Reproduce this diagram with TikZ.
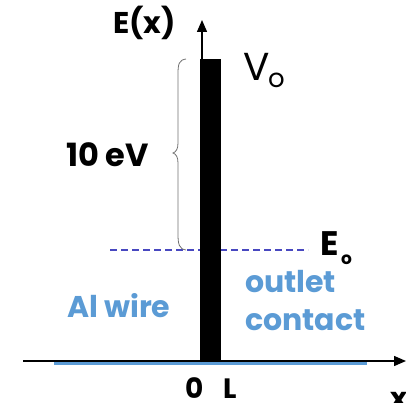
\documentclass[tikz,border=0pt]{standalone}
\usepackage{fontspec}
\setmainfont{Poppins}
\usetikzlibrary{arrows.meta}
\definecolor{wireblue}{HTML}{5B9BD5}
\definecolor{dashblue}{HTML}{4848C0}
\definecolor{bracegray}{HTML}{707070}
\tikzset{
  lbl/.style={anchor=base west, inner sep=0pt, outer sep=0pt},
  bluelbl/.style={lbl, text=wireblue, font=\bfseries\fontsize{30}{32}\selectfont},
  axis/.style={line width=1.4pt, -{Triangle[width=10pt,length=12pt]}},
}
\begin{document}
\begin{tikzpicture}[x=1pt,y=-1pt]
\useasboundingbox (0,0) rectangle (406,403);
% energy level E0 (dashed)
\coordinate (dl) at (110,250);
\coordinate (dr) at (308,250);
\draw[dashblue, line width=1.1pt, dash pattern=on 7pt off 4pt] (dl) -- (dr);
% x axis
\coordinate (xs) at (23,361);
\coordinate (xe) at (406,361);
\draw[axis] (xs) -- (xe);
\coordinate (bs) at (54,363.5);
\coordinate (be) at (367,363.5);
\draw[wireblue, line width=2.2pt] (bs) -- (be);
% y axis
\coordinate (ys) at (202,362);
\coordinate (ye) at (202,20);
\draw[axis] (ys) -- (ye);
% barrier
\node[fill=black, inner sep=0pt, minimum width=21pt, minimum height=303pt, anchor=north west] (bar) at (200,59) {};
% brace
\coordinate (bt) at (186,59);
\coordinate (bb) at (186,250);
\coordinate (tip) at (173,153);
\draw[bracegray, line width=0.8pt] (bt) .. controls (179,60) and (178,64) .. (178,74)
  -- (178,143) .. controls (178,149) and (176,152) .. (tip)
  .. controls (176,154) and (178,157) .. (178,163)
  -- (178,234) .. controls (178,244) and (179,249) .. (bb);
% labels
\node[lbl, font=\bfseries\fontsize{30}{32}\selectfont] (ex) at (113,34) {E(x)};
\node[lbl, font=\fontsize{39}{41}\selectfont] (v0) at (243,81) {V};
\node[lbl, font=\fontsize{26}{28}\selectfont] (v0s) at (268,88) {o};
\node[lbl, font=\bfseries\fontsize{32}{34}\selectfont] (ev) at (66,167) {10 eV};
\node[lbl, font=\bfseries\fontsize{34}{36}\selectfont] (e0) at (320,255) {E};
\node[lbl, font=\bfseries\fontsize{17}{19}\selectfont] (e0s) at (341,264) {o};
\node[bluelbl] (al) at (67,317) {Al wire};
\node[bluelbl] (out) at (245,292) {outlet};
\node[bluelbl] (con) at (245,330) {contact};
\node[lbl, font=\bfseries\fontsize{28}{30}\selectfont] (zero) at (185,398) {0};
\node[lbl, font=\bfseries\fontsize{28}{30}\selectfont] (ell) at (223,398) {L};
\node[lbl, font=\bfseries\fontsize{29}{31}\selectfont] (xl) at (390,408) {x};
\end{tikzpicture}
\end{document}
